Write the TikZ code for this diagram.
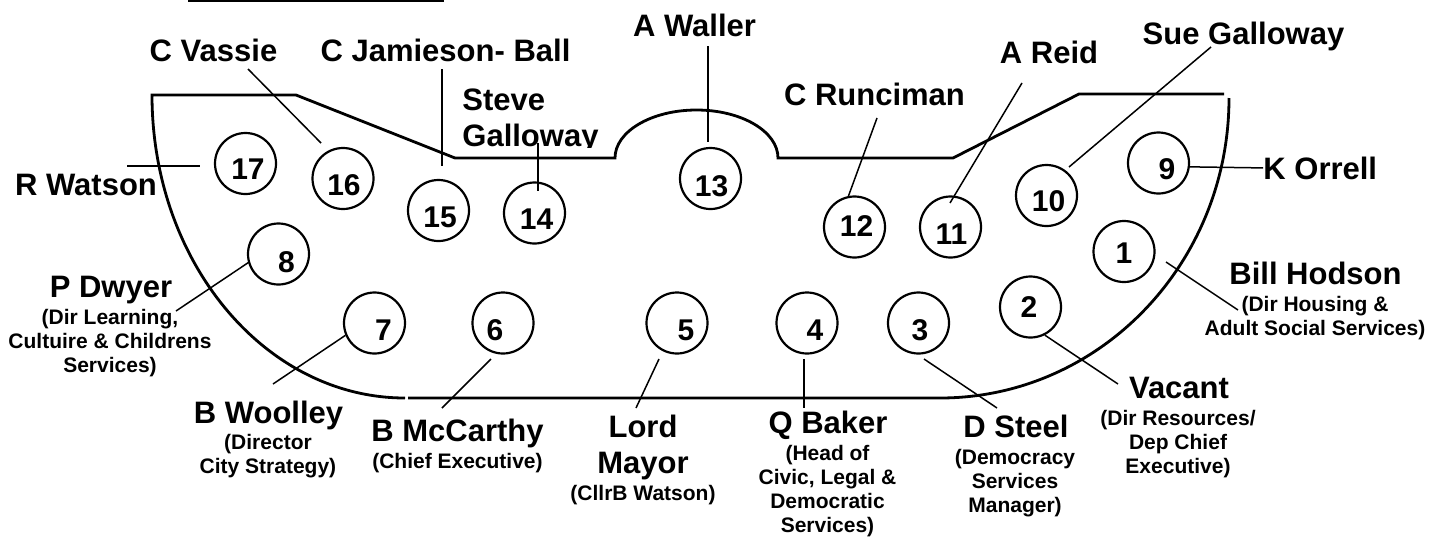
\documentclass[tikz,border=0pt]{standalone}
\usepackage{fontspec}
\setmainfont{Liberation Sans}

\begin{document}
\begin{tikzpicture}[x=0.5pt,y=0.5pt,
	seat/.style={circle,draw,line width=1.1pt,minimum size=30.5pt},
	num/.style={font=\fontsize{15}{18}\selectfont\bfseries},
	who/.style={anchor=base,align=center,font=\fontsize{15.5}{18}\selectfont\bfseries},
	role/.style={anchor=base,align=center,font=\fontsize{10.5}{12}\selectfont\bfseries},
	lead/.style={line width=0.75pt},
	room/.style={line width=1.4pt}]
	\tikzstyle{every node}+=[inner sep=0pt]
	\useasboundingbox (0,0) rectangle (1445,-536);
	\draw [line width=1pt] (188,-1) -- (444,-1);
	\draw [room] (408,-398) -- (940,-398) arc[start angle=-90,end angle=0,x radius=144.5pt,y radius=150pt];
	\draw [room] (1224,-94) -- (1079,-94) -- (953,-158) -- (778,-158) arc[start angle=0,end angle=180,x radius=40.75pt,y radius=24pt] -- (455,-158) -- (296,-95) -- (152,-95) arc[start angle=180,end angle=270,x radius=126.5pt,y radius=151.5pt];
	\foreach \n/\x/\y/\dx/\dy in {1/1124/251.5/0/1.5, 2/1030.5/307/-1.5/0, 3/918.5/323/1.5/7, 4/807/323/8/7, 5/677/323/9/7, 6/503/323/-8/7, 7/374.5/323/9/7, 8/278.5/254/8/8, 9/1158.5/163/8.5/6, 10/1046.5/195.5/2/5.5, 11/950.5/227/1/7, 12/854.5/227/2/-1, 13/710.5/178.5/1/7.5, 14/534.5/213/2/6, 15/438.5/210.5/1.5/6.5, 16/343/178.5/1/6.5, 17/245.5/163.5/2.5/5.5}
	{
		\node [seat] (s\n) at (\x,-\y) {};
		\node [num] (n\n) at ([shift={(\dx,-\dy)}]s\n.center) {\n};
	}
	\node [who] (wat) at (86,-195) {R Watson};
	\node [who] (vas) at (213.5,-61) {C Vassie};
	\node [who] (jam) at (445.5,-61) {C Jamieson- Ball};
	\begin{scope}
		\clip (450,-60) rectangle (620,-147);
		\node [who,anchor=base west,align=left] (stg) at (462,-146) {Steve\\Galloway};
	\end{scope}
	\node [who] (wal) at (694.5,-36) {A Waller};
	\node [who] (run) at (874.5,-105) {C Runciman};
	\node [who] (rei) at (1049,-63) {A Reid};
	\node [who] (sue) at (1243.5,-44) {Sue Galloway};
	\node [who,anchor=base west] (orr) at (1263,-179) {K Orrell};
	\node [who] (hod) at (1315.5,-284) {Bill Hodson};
	\node [role] (hodr) at (1315,-335) {(Dir Housing \&\\Adult Social Services)};
	\node [who] (vac) at (1179,-398) {Vacant};
	\node [role] (vacr) at (1178,-473) {(Dir Resources/\\Dep Chief\\Executive)};
	\node [who] (ste) at (1016,-437) {D Steel};
	\node [role] (ster) at (1015,-512) {(Democracy\\Services\\Manager)};
	\node [who] (bak) at (828,-433) {Q Baker};
	\node [role] (bakr) at (827.5,-532) {(Head of\\Civic, Legal \&\\Democratic\\Services)};
	\node [who] (may) at (643,-473) {Lord\\Mayor};
	\node [role] (mayr) at (643,-500) {(CllrB Watson)};
	\node [who] (mcc) at (457.5,-441) {B McCarthy};
	\node [role] (mccr) at (457.5,-468) {(Chief Executive)};
	\node [who] (woo) at (268.5,-423) {B Woolley};
	\node [role] (woor) at (268,-473) {(Director\\City Strategy)};
	\node [who] (dwy) at (111,-297) {P Dwyer};
	\node [role] (dwyr) at (110,-372) {(Dir Learning,\\Cultuire \& Childrens\\Services)};
	\foreach \c/\x/\y in {w1/127/166, w2/200/166, v1/248/69, v2/321/143, j1/442/69, j2/442/166, g1/538/143, g2/538/191, a1/708/46, a2/708/142, r1/877/118, d1/1022/83, d2/950/203, u1/1211/47, u2/1069/167, h1/1166/262, h2/1238/310, c2/1118/384, t1/924/359, t2/997/408, q1/804/359, q2/804/408, m1/659/359, m2/636/408, b1/491/359, b2/442/408, o2/273/384, p2/176/311}
		\coordinate (\c) at (\x,-\y);
	\draw [lead] (w1) -- (w2);
	\draw [lead] (v1) -- (v2);
	\draw [lead] (j1) -- (j2);
	\draw [lead] (g1) -- (g2);
	\draw [lead] (a1) -- (a2);
	\draw [lead] (r1) -- (s12.101);
	\draw [lead] (d1) -- (d2);
	\draw [lead] (u1) -- (u2);
	\draw [lead] (s9.-7) -- (orr.west);
	\draw [lead] (h1) -- (h2);
	\draw [lead] (s2.-63) -- (c2);
	\draw [lead] (t1) -- (t2);
	\draw [lead] (q1) -- (q2);
	\draw [lead] (m1) -- (m2);
	\draw [lead] (b1) -- (b2);
	\draw [lead] (s7.203) -- (o2);
	\draw [lead] (s8.196) -- (p2);
\end{tikzpicture}
\end{document}
